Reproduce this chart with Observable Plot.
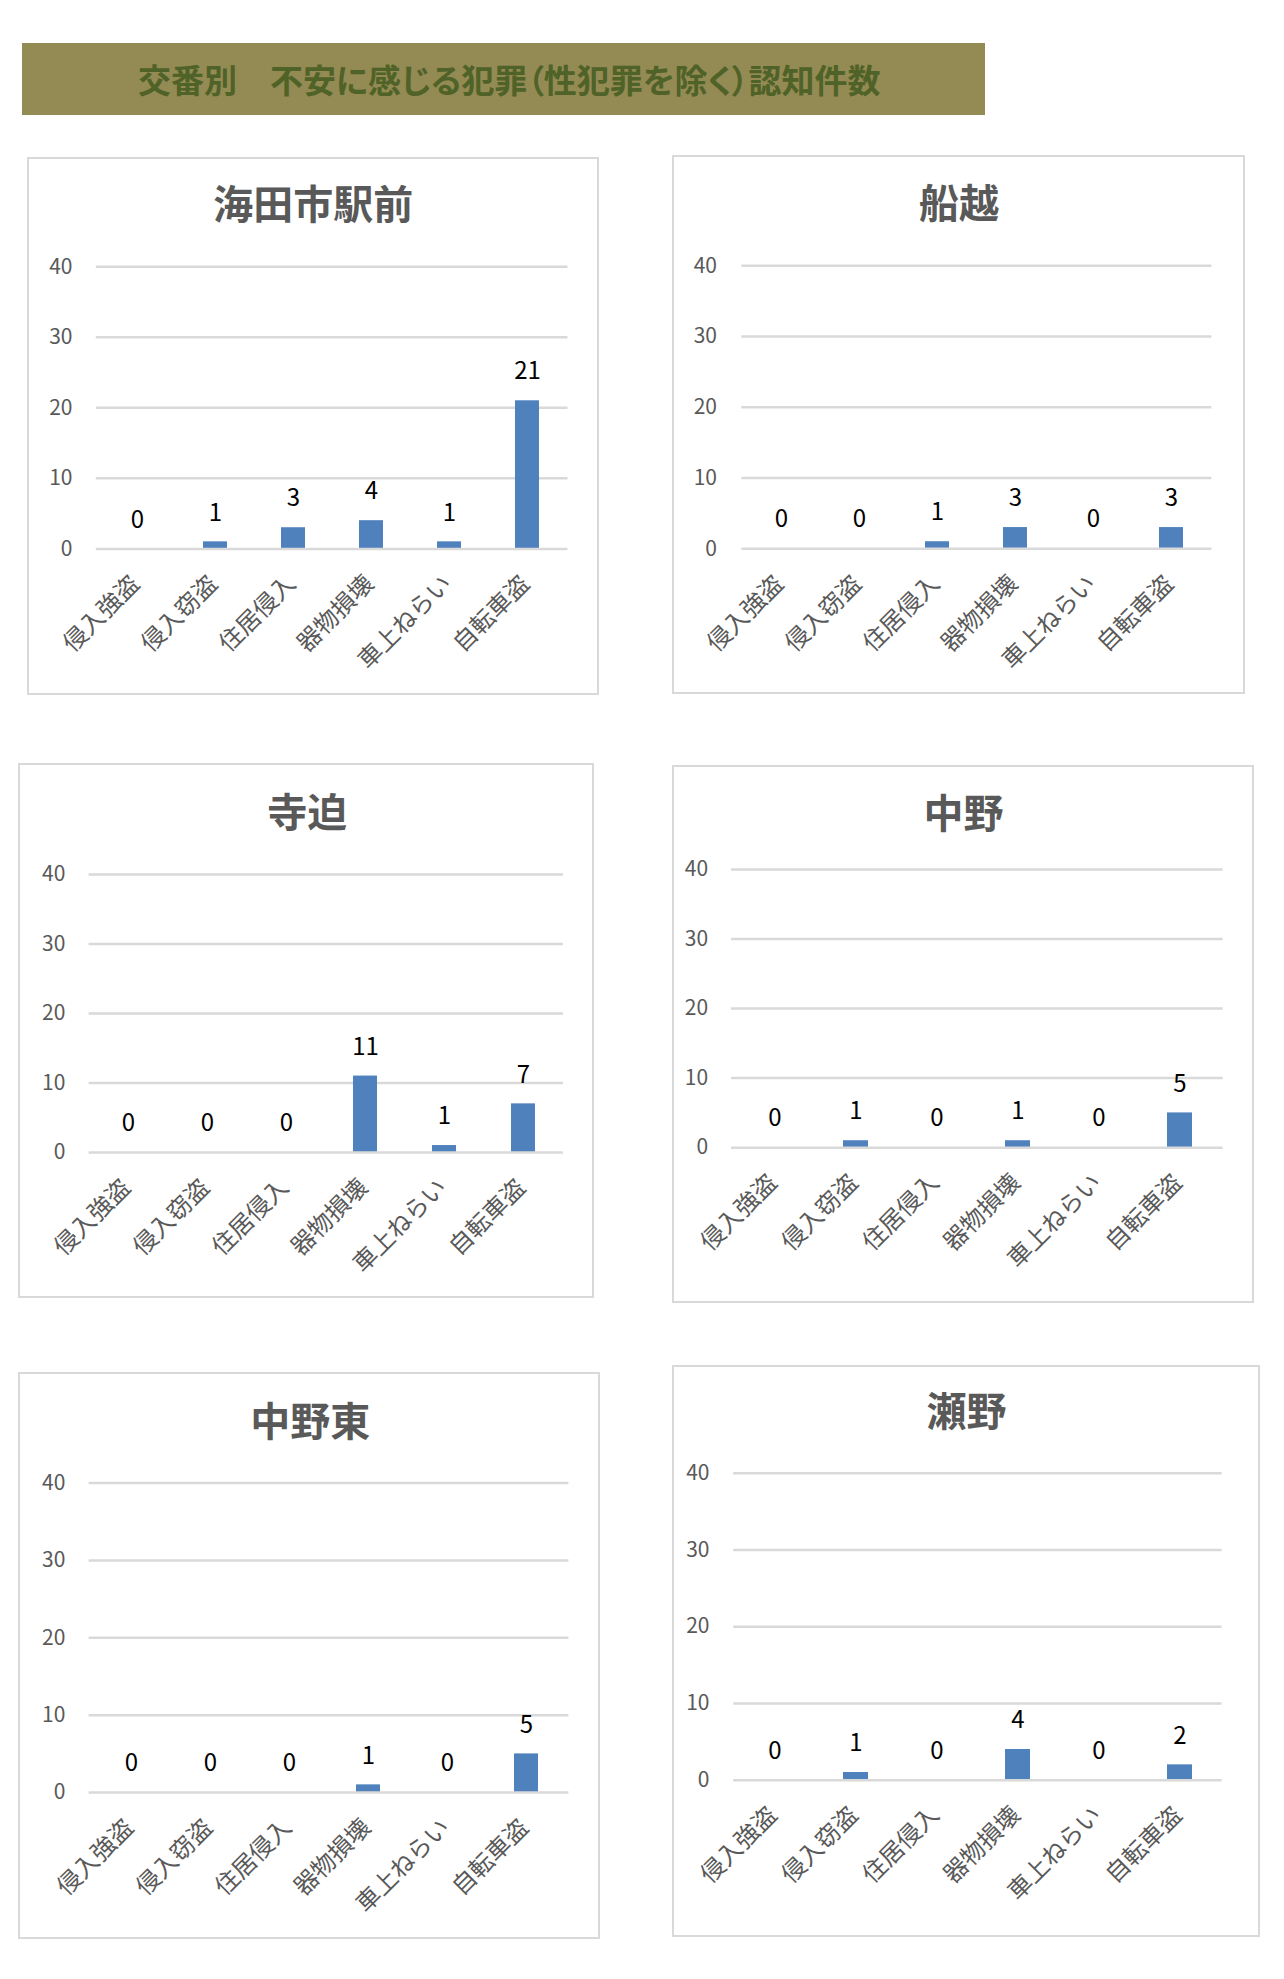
<!DOCTYPE html>
<html lang="ja">
<head>
<meta charset="utf-8">
<script src="https://cdn.jsdelivr.net/npm/d3@7"></script>
<script src="https://cdn.jsdelivr.net/npm/@observablehq/plot@0.6"></script>
<style>
  html, body { margin: 0; padding: 0; background: #ffffff; }
  #page { position: relative; width: 1284px; height: 1979px; font-family: "Noto Sans CJK JP", "Noto Sans", sans-serif; }
  .banner { position: absolute; left: 22px; top: 43px; width: 963px; height: 72px; background: #948A54;
            display: flex; align-items: center; box-sizing: border-box; padding-left: 116px;
            color: #4F6228; font-weight: bold; font-size: 33px; line-height: 1; white-space: nowrap;
            font-feature-settings: "palt"; }
  .frame { position: absolute; box-sizing: border-box; border: 2.5px solid #d9d9d9; }
  .chart { position: absolute; }
  .chart svg { overflow: visible; }
</style>
</head>
<body>
<div id="page"></div>
<script>
// ---- data ----
const pageTitle = "交番別　不安に感じる犯罪（性犯罪を除く）認知件数";
const categories = ["侵入強盗", "侵入窃盗", "住居侵入", "器物損壊", "車上ねらい", "自転車盗"];
const stationNames = ["海田市駅前", "船越", "寺迫", "中野", "中野東", "瀬野"];
const kaitaichiEkimae = [0, 1, 3, 4, 1, 21];
const funakoshi       = [0, 0, 1, 3, 0, 3];
const terasako        = [0, 0, 0, 11, 1, 7];
const nakano          = [0, 1, 0, 1, 0, 5];
const nakanoHigashi   = [0, 0, 0, 1, 0, 5];
const seno            = [0, 1, 0, 4, 0, 2];
const yTicks = [0, 10, 20, 30, 40];
const seriesList = [kaitaichiEkimae, funakoshi, terasako, nakano, nakanoHigashi, seno];

// ---- layout (page pixel geometry of each chart panel) ----
const layouts = [
  {left: 28.4, right: 598,    top: 158.4,  bottom: 693.4,  x0: 96.2,  x1: 567.9,  y40: 266.7,  y0: 548.8,  tickRight: 72.4,  titleY: 206.4},
  {left: 673,  right: 1244,   top: 156.5,  bottom: 693,    x0: 741.3, x1: 1211.4, y40: 264.8,  y0: 547.8,  tickRight: 716.5, titleY: 204.4},
  {left: 19.6, right: 593,    top: 764.6,  bottom: 1297.2, x0: 88.2,  x1: 562.6,  y40: 873.7,  y0: 1151.6, tickRight: 64.4,  titleY: 813.3},
  {left: 673,  right: 1253,   top: 766.5,  bottom: 1301.9, x0: 731,   x1: 1222.6, y40: 868.4,  y0: 1146.7, tickRight: 707.6, titleY: 814.4},
  {left: 19.6, right: 599,    top: 1373.4, bottom: 1937.4, x0: 88.2,  x1: 568,    y40: 1483,   y0: 1792.5, tickRight: 64.4,  titleY: 1423.3},
  {left: 673,  right: 1259,   top: 1365.9, bottom: 1936,   x0: 733.2, x1: 1221.6, y40: 1472.7, y0: 1779.6, tickRight: 709,   titleY: 1412.4}
];

const page = document.getElementById("page");
const banner = document.createElement("div");
banner.className = "banner";
banner.textContent = pageTitle;
page.appendChild(banner);

const FONT = '"Noto Sans CJK JP", "Noto Sans", sans-serif';

function makePanel(name, values, L) {
  const rows = categories.map((c, i) => ({category: c, value: values[i]}));
  const width = L.right - L.left;
  const height = L.bottom - L.top;
  const mL = L.x0 - L.left, mR = L.right - L.x1, mT = L.y40 - L.top, mB = L.bottom - L.y0;
  const frameCx = mL + (width - mL - mR) / 2;

  const frame = document.createElement("div");
  frame.className = "frame";
  frame.style.left = (L.left - 1.25) + "px";
  frame.style.top = (L.top - 1.25) + "px";
  frame.style.width = (width + 2.5) + "px";
  frame.style.height = (height + 2.5) + "px";
  page.appendChild(frame);

  const chart = Plot.plot({
    width, height,
    marginLeft: mL, marginRight: mR, marginTop: mT, marginBottom: mB,
    x: {domain: categories, paddingInner: 0.69, paddingOuter: 0.345, align: 0.5, axis: null},
    y: {domain: [0, 40], axis: null},
    style: {fontFamily: FONT, background: "transparent", overflow: "visible"},
    marks: [
      Plot.ruleY(yTicks.filter(d => d > 0), {stroke: "#d9d9d9", strokeWidth: 2.5}),
      Plot.barY(rows, {x: "category", y: "value", fill: "#4F81BD"}),
      Plot.ruleY([0], {stroke: "#d9d9d9", strokeWidth: 2.5}),
      Plot.text(yTicks, {y: d => d, frameAnchor: "left", textAnchor: "end", dx: -(L.x0 - L.tickRight),
                         text: d => String(d), fontSize: 21, fill: "#595959"}),
      Plot.text(rows, {x: "category", y: "value", text: d => String(d.value), dy: -29,
                       fontSize: 24, fill: "#000000"}),
      Plot.text(rows, {x: "category", text: "category", frameAnchor: "bottom", rotate: -45,
                       textAnchor: "end", lineAnchor: "middle", dx: -2, dy: 31,
                       fontSize: 24, fill: "#595959"}),
      Plot.text([name], {text: d => d, frameAnchor: "top", dx: width / 2 - frameCx, dy: L.titleY - L.y40,
                         lineAnchor: "middle", fontSize: 40, fontWeight: "bold", fill: "#595959"})
    ]
  });
  const wrap = document.createElement("div");
  wrap.className = "chart";
  wrap.style.left = L.left + "px";
  wrap.style.top = L.top + "px";
  wrap.appendChild(chart);
  page.appendChild(wrap);
}

stationNames.forEach((name, i) => makePanel(name, seriesList[i], layouts[i]));
</script>
</body>
</html>
